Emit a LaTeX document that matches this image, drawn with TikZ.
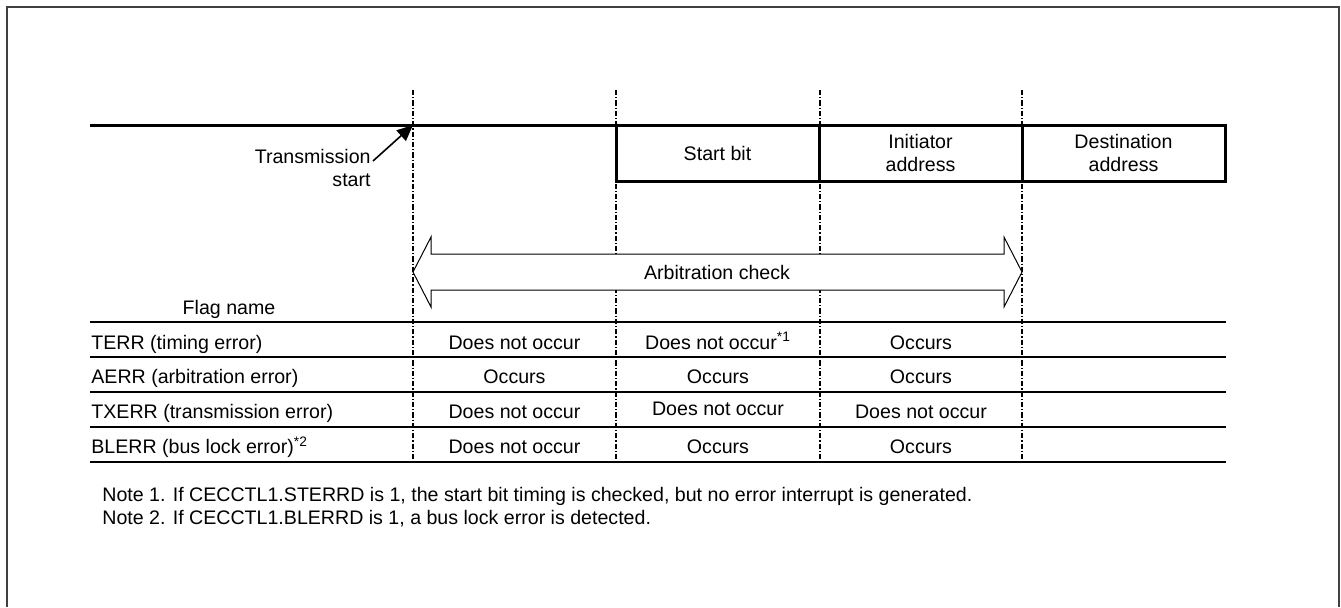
\documentclass[tikz,border=0pt]{standalone}
\usepackage{fontspec}
\setmainfont{Liberation Sans}
\usetikzlibrary{arrows.meta,positioning}

\begin{document}
\begin{tikzpicture}[x=0.5pt,y=-0.5pt,>={Triangle[length=8pt,width=7pt]},font=\fontsize{9.8}{11.2}\selectfont,
  bitbox/.style={draw,line width=1.5pt,minimum width=101.5pt,minimum height=28pt,align=center,inner sep=0pt,outer sep=0pt},
  rowline/.style={line width=0.9pt},
  slotline/.style={line width=0.7pt,dash pattern=on 2.6pt off 1pt on 0.6pt off 1pt},
  cell/.style={anchor=base,inner sep=0pt},
  flag/.style={anchor=base west,inner sep=0pt}]
\useasboundingbox (0,0) rectangle (1341,607);
\draw[line width=1pt,black!75] (7,607) -- (7,7) -- (1339,7) -- (1339,607);

% time slots
\draw[slotline] (413,90) -- (413,462);
\draw[slotline] (616,90) -- (616,462);
\draw[slotline] (820,90) -- (820,462);
\draw[slotline] (1022,90) -- (1022,462);

% frame on the bus
\draw[line width=1.5pt] (90,125) -- (616,125);
\node[bitbox,anchor=north west] (sbit) at (616,125) {Start bit};
\node[bitbox,right=0pt of sbit] (iaddr) {Initiator\\ address};
\node[bitbox,right=0pt of iaddr] (daddr) {Destination\\ address};

\node[align=right,anchor=east,inner sep=0pt] (txstart) at (371,168) {Transmission\\ start};
\coordinate (txpoint) at (413,125);
\draw[->,line width=0.8pt] ([xshift=1pt,yshift=3.5pt]txstart.east) -- (txpoint);

% arbitration range
\draw[fill=white,line width=0.5pt] (413,272) -- (431,237) -- (431,254) -- (1004,254) -- (1004,237) -- (1022,272) -- (1004,307) -- (1004,290) -- (431,290) -- (431,307) -- cycle;
\node (arbchk) at (717,272) {Arbitration check};

% flag table
\node[cell] (flaghead) at (229,314) {Flag name};
\draw[rowline] (90,321.7) -- (1226,321.7);
\draw[rowline] (90,356.7) -- (1226,356.7);
\draw[rowline] (90,391.7) -- (1226,391.7);
\draw[rowline] (90,426.7) -- (1226,426.7);
\draw[rowline] (90,461.7) -- (1226,461.7);

\node[flag] (terr) at (91,349) {TERR (timing error)};
\node[cell] (terra) at (514.5,349) {Does not occur};
\node[cell] (terrb) at (718,349) {Does not occur\textsuperscript{*1}};
\node[cell] (terrc) at (921,349) {Occurs};

\node[flag] (aerr) at (91,383.5) {AERR (arbitration error)};
\node[cell] (aerra) at (514.5,383.5) {Occurs};
\node[cell] (aerrb) at (718,383.5) {Occurs};
\node[cell] (aerrc) at (921,383.5) {Occurs};

\node[flag] (txerr) at (91,418.5) {TXERR (transmission error)};
\node[cell] (txerra) at (514.5,418.5) {Does not occur};
\node[cell] (txerrb) at (718,415.5) {Does not occur};
\node[cell] (txerrc) at (921,418.5) {Does not occur};

\node[flag] (blerr) at (91,453.5) {BLERR (bus lock error)\textsuperscript{*2}};
\node[cell] (blerra) at (514.5,453.5) {Does not occur};
\node[cell] (blerrb) at (718,453.5) {Occurs};
\node[cell] (blerrc) at (921,453.5) {Occurs};

% notes
\node[flag] (note1) at (102,501.7) {Note 1. If CECCTL1.STERRD is 1, the start bit timing is checked, but no error interrupt is generated.};
\node[flag] (note2) at (102,524) {Note 2. If CECCTL1.BLERRD is 1, a bus lock error is detected.};
\end{tikzpicture}
\end{document}
